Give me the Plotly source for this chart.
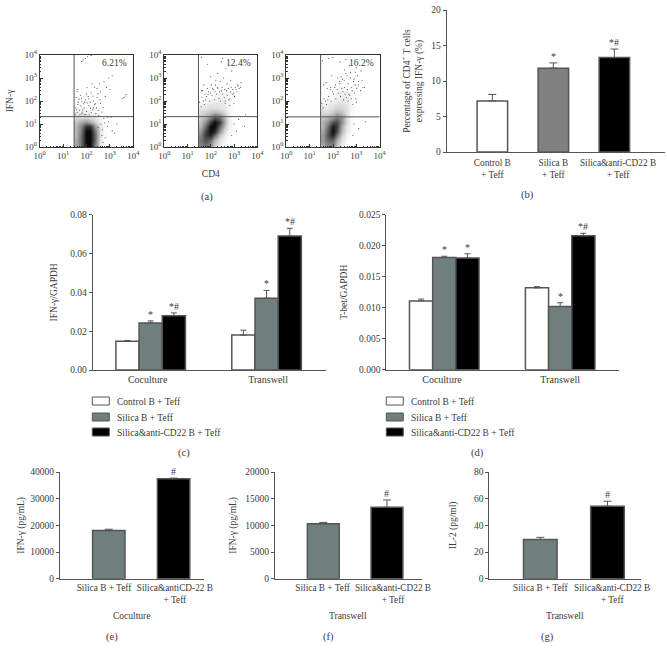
"""
Flow cytometry dot plots and cytokine bar panels (a)-(g).
"""
import plotly.graph_objects as go

W, H = 667, 659
FONT = "Liberation Serif"
INK = "#3a3a3a"
EDGE = "#555555"
WHITE_BAR, GRAY_BAR, DARK_BAR, BLACK_BAR = "#ffffff", "#808080", "#6f7f7e", "#000000"

# (a) dot plots, everything in decades (log10 of the channel value)
flow_pct = ["6.21%", "12.4%", "16.2%"]
gate_x = [1.47, 1.47, 1.47]
gate_y = [1.32, 1.32, 1.31]

dens_x = [1.57, 1.77, 1.97, 2.17, 2.37, 2.57, 2.77, 2.97]
dens_y = [0.1, 0.3, 0.5, 0.7, 0.9, 1.1, 1.3, 1.5, 1.7, 1.9, 2.1, 2.3, 2.5]

dens_1 = [
    [.35, .6, 1, 1, .5, .1, 0, 0],
    [.35, .6, 1, 1, .6, .1, 0, 0],
    [.3, .6, 1, 1, .6, .12, .02, 0],
    [.3, .55, 1, 1, .55, .12, .02, 0],
    [.3, .5, .85, .85, .4, .1, .02, 0],
    [.25, .35, .45, .35, .2, .06, 0, 0],
    [.15, .15, .15, .12, .08, .03, 0, 0],
    [.08, .06, .06, .06, .04, .02, 0, 0],
    [.03, .03, .03, .03, .02, 0, 0, 0],
    [0, 0, 0, 0, 0, 0, 0, 0],
    [0, 0, 0, 0, 0, 0, 0, 0],
    [0, 0, 0, 0, 0, 0, 0, 0],
    [0, 0, 0, 0, 0, 0, 0, 0],
]
dens_2 = [
    [.5, .6, .45, .2, .08, .02, 0, 0],
    [.55, .7, .6, .3, .12, .04, 0, 0],
    [.5, .8, .9, .6, .25, .08, .02, 0],
    [.4, .75, 1, .9, .45, .15, .03, 0],
    [.3, .6, 1, 1, .65, .25, .06, .02],
    [.25, .45, .8, 1, .8, .35, .08, .02],
    [.2, .3, .5, .7, .6, .3, .08, 0],
    [.15, .2, .25, .3, .25, .15, .05, 0],
    [.1, .12, .15, .15, .12, .1, .04, 0],
    [.04, .06, .08, .1, .1, .08, .03, 0],
    [0, .02, .03, .05, .06, .06, .03, 0],
    [0, 0, 0, .02, .03, .04, .03, 0],
    [0, 0, 0, 0, 0, 0, 0, 0],
]
dens_3 = [
    [.35, .5, .5, .25, .08, .02, 0, 0],
    [.4, .6, .65, .35, .12, .03, 0, 0],
    [.4, .7, .9, .55, .2, .05, 0, 0],
    [.35, .65, 1, .75, .3, .08, .02, 0],
    [.3, .55, .95, .8, .35, .1, .02, 0],
    [.3, .45, .7, .75, .45, .15, .03, 0],
    [.22, .3, .4, .55, .45, .15, .03, 0],
    [.15, .15, .2, .3, .25, .12, .03, 0],
    [.1, .1, .14, .18, .18, .12, .04, 0],
    [.05, .06, .08, .12, .13, .1, .05, 0],
    [0, .03, .05, .07, .1, .08, .04, 0],
    [0, 0, .02, .05, .06, .06, .04, 0],
    [0, 0, 0, .02, .04, .04, .02, 0],
]

dots_1_x = [1.6, 1.55, 1.7, 1.8, 1.9, 2.0, 2.1, 2.2, 2.3, 2.4, 2.5, 1.65, 1.8, 1.95, 2.1, 2.3, 2.45, 2.6,
            2.2, 2.0, 1.75, 2.6, 2.8, 2.85, 2.95, 2.75, 2.55, 3.1, 2.45, 3.0, 2.35, 1.6,
            3.55, 3.6, 3.65, 3.7, 1.8, 1.85, 1.95, 2.05, 2.2, 2.9, 3.1, 3.2, 2.8, 2.95, 3.3, 2.7,
            1.52, 1.58, 1.63, 1.72, 1.76, 1.84, 1.88, 1.97, 2.03, 2.12, 2.17, 2.26, 2.34, 2.43, 2.52, 2.66,
            1.56, 1.68, 1.83, 1.92, 2.07, 2.16, 2.28, 2.38, 2.49, 2.71, 1.62, 1.78, 2.02, 2.24, 2.58, 1.9,
            2.62, 2.68, 2.74, 2.66, 2.9, 3.05, 2.5, 2.78]
dots_1_y = [1.5, 1.7, 1.6, 1.45, 1.7, 1.55, 1.8, 1.5, 1.7, 1.45, 1.6, 1.95, 2.0, 2.05, 2.1, 2.0, 2.15, 1.9,
            2.35, 2.3, 2.25, 2.4, 2.2, 2.6, 3.0, 2.85, 2.75, 3.1, 2.55, 2.5, 2.6, 2.4,
            2.1, 2.15, 2.22, 2.28, 3.72, 3.78, 3.85, 3.93, 3.98, 0.9, 0.7, 0.6, 0.4, 1.1, 1.0, 0.2,
            1.42, 1.62, 1.85, 1.4, 1.78, 1.62, 1.88, 1.42, 1.92, 1.4, 1.68, 1.62, 1.86, 1.7, 1.38, 1.52,
            2.15, 2.08, 1.52, 1.95, 2.2, 1.95, 2.22, 1.88, 2.32, 1.72, 2.5, 2.12, 2.6, 2.75, 2.05, 1.4,
            1.0, 0.75, 1.25, 0.5, 1.3, 1.3, 0.85, 1.05]
dots_2_x = [1.6, 1.75, 1.9, 2.1, 2.3, 2.45, 2.6, 2.75, 2.85, 2.95, 3.05, 3.15, 3.3, 2.2, 2.4, 2.55,
            2.7, 2.85, 2.0, 1.85, 2.9, 2.65, 2.45, 2.3, 2.5, 1.7, 1.6, 3.0, 3.2, 3.45, 2.9, 3.1, 3.5,
            1.52, 1.62, 1.72, 1.82, 1.95, 2.05, 2.15, 2.25, 2.35, 2.5, 2.62, 2.72, 2.82, 2.92, 3.02, 3.12,
            3.22, 1.58, 1.78, 1.98, 2.18, 2.38, 2.58, 2.78, 2.98, 1.68, 1.88, 2.08, 2.28, 2.48, 2.68, 2.88,
            3.08, 3.28, 2.42, 2.62, 2.82, 3.0, 3.18, 1.65, 1.85, 2.02, 2.22]
dots_2_y = [2.45, 2.3, 2.4, 2.5, 2.55, 2.45, 2.5, 2.55, 2.4, 2.5, 2.6, 2.7, 2.8, 2.7, 2.85, 3.0,
            2.75, 2.9, 3.05, 3.6, 3.3, 3.4, 3.7, 3.2, 3.85, 2.7, 3.9, 1.0, 1.2, 0.9, 0.5, 0.7, 1.4,
            1.95, 2.15, 1.85, 2.2, 2.0, 2.25, 2.05, 2.3, 2.12, 2.3, 2.0, 2.25, 2.1, 2.3, 2.2, 2.4,
            2.55, 1.75, 2.05, 2.35, 2.4, 2.4, 2.15, 2.05, 2.35, 2.0, 2.3, 2.55, 2.6, 2.6, 2.45, 2.6,
            2.5, 2.6, 2.0, 1.9, 1.8, 1.9, 2.65, 2.45, 2.55, 2.7, 2.9]
dots_3_x = [1.6, 1.75, 1.9, 2.1, 2.3, 2.5, 2.65, 2.8, 2.95, 3.1, 3.25, 2.2, 2.4, 2.6, 2.75, 2.9, 3.05,
            2.0, 1.8, 3.0, 2.7, 2.5, 2.3, 3.2, 3.35, 1.7, 1.55, 2.9, 3.1, 3.4, 2.85, 2.55, 1.95,
            1.52, 1.62, 1.72, 1.82, 1.92, 2.02, 2.12, 2.22, 2.32, 2.42, 2.52, 2.62, 2.72, 2.82, 2.92, 3.02,
            1.58, 1.78, 1.98, 2.18, 2.38, 2.58, 2.78, 2.98, 3.18, 1.68, 1.88, 2.08, 2.28, 2.48, 2.68, 2.88,
            3.08, 3.28, 2.45, 2.65, 2.85, 3.0, 2.35, 2.55, 2.75, 2.95]
dots_3_y = [2.7, 2.55, 2.6, 2.7, 2.75, 2.6, 2.75, 2.6, 2.7, 2.85, 2.9, 3.0, 2.95, 3.1, 3.25, 2.95, 3.1,
            3.9, 3.85, 3.45, 3.55, 3.35, 3.7, 3.3, 2.6, 2.8, 3.75, 1.0, 0.8, 1.1, 0.5, 3.8, 3.1,
            1.9, 2.1, 1.85, 2.2, 2.0, 2.3, 2.1, 2.35, 2.2, 2.4, 2.3, 2.5, 2.25, 2.45, 2.35, 2.55,
            1.7, 2.05, 2.4, 2.5, 2.55, 2.15, 2.1, 2.1, 2.45, 2.0, 2.5, 2.6, 2.85, 2.9, 2.3, 2.85,
            2.7, 2.6, 2.05, 2.0, 1.85, 1.95, 3.05, 3.2, 3.0, 3.25]

# (b)
b_cats = ["Control B<br>+ Teff", "Silica B<br>+ Teff", "Silica&anti-CD22 B<br>+ Teff"]
b_vals = [7.2, 11.8, 13.3]
b_errs = [0.9, 0.75, 1.2]
b_marks = ["", "*", "*#"]

# (c), (d)
groups = ["Coculture", "Transwell"]
series = ["Control B + Teff", "Silica B + Teff", "Silica&anti-CD22 B + Teff"]
c_vals = [[0.0148, 0.018], [0.0242, 0.037], [0.028, 0.069]]
c_errs = [[0.0004, 0.0025], [0.0011, 0.004], [0.0014, 0.004]]
c_marks = [["", ""], ["*", "*"], ["*#", "*#"]]
d_vals = [[0.0111, 0.0132], [0.0181, 0.0102], [0.018, 0.0216]]
d_errs = [[0.0003, 0.0002], [0.0002, 0.0006], [0.0007, 0.0004]]
d_marks = [["", ""], ["*", "*"], ["*", "*#"]]

# (e), (f), (g)
e_cats = ["Silica B + Teff", "Silica&antiCD-22 B<br>+ Teff"]
fg_cats = ["Silica B + Teff", "Silica&anti-CD22 B<br>+ Teff"]
e_vals, e_errs = [18100, 37450], [450, 250]
f_vals, f_errs = [10300, 13400], [250, 1350]
g_vals, g_errs = [29.4, 54.3], [1.6, 3.8]


def dom_x(left, right):
    return [left / W, right / W]


def dom_y(top, bottom):
    return [1 - bottom / H, 1 - top / H]


fig = go.Figure()
annotations = []
shapes = []
axes = {}


def note(text, xpx, ypx, size=10.5):
    annotations.append(dict(text=text, xref="paper", yref="paper", x=xpx / W, y=1 - ypx / H,
                            xanchor="center", yanchor="middle", showarrow=False,
                            font=dict(family=FONT, size=size, color=INK)))


def base_x(n, left, right, xrange, tickvals, ticktext, size=9.3, standoff=0):
    axes[f"xaxis{n}"] = dict(domain=dom_x(left, right), anchor=f"y{n}", range=xrange, tickvals=tickvals,
                             ticktext=ticktext, automargin=False, tickangle=0, showgrid=False, zeroline=False,
                             showline=True, linecolor=EDGE, linewidth=1, ticks="", ticklabelstandoff=standoff,
                             tickfont=dict(family=FONT, size=size, color=INK))


def base_y(n, top, bottom, yrange, tickvals, title, standoff, fmt=""):
    axes[f"yaxis{n}"] = dict(domain=dom_y(top, bottom), anchor=f"x{n}", range=yrange, tickvals=tickvals,
                             automargin=False, tickformat=fmt, showgrid=False, zeroline=False, showline=True,
                             linecolor=EDGE, linewidth=1, ticks="outside", ticklen=3, tickcolor=EDGE,
                             tickfont=dict(family=FONT, size=9.5, color=INK),
                             title=dict(text=title, standoff=standoff, font=dict(family=FONT, size=9.5, color=INK)))


def star(n, x, y, text):
    if text:
        annotations.append(dict(text=text, xref=f"x{n}", yref=f"y{n}", x=x, y=y, yanchor="bottom", yshift=-1,
                                showarrow=False, font=dict(family=FONT, size=10, color=INK)))


def simple_bars(n, vals, errs, colors, marks):
    fig.add_trace(go.Bar(x=list(range(len(vals))), y=vals, width=0.5, xaxis=f"x{n}", yaxis=f"y{n}", marker_color=colors,
                         marker_line=dict(color=EDGE, width=1.5), showlegend=False,
                         error_y=dict(type="data", array=errs, arrayminus=[0] * len(errs), symmetric=False,
                                      color=EDGE, thickness=1, width=4)))
    for i, m in enumerate(marks):
        star(n, i, vals[i] + errs[i], m)


def group_bars(n, vals, errs, marks):
    for s, colour in enumerate([WHITE_BAR, DARK_BAR, BLACK_BAR]):
        fig.add_trace(go.Bar(x=[0, 1], y=vals[s], name=series[s], xaxis=f"x{n}", yaxis=f"y{n}", marker_color=colour,
                             marker_line=dict(color=EDGE, width=1.5), showlegend=False,
                             error_y=dict(type="data", array=errs[s], arrayminus=[0, 0], symmetric=False,
                                          color=EDGE, thickness=1, width=3)))
        for g in range(2):
            star(n, g + (s - 1) * 0.2, vals[s][g] + errs[s][g], marks[s][g])


def legend_box(left, text_x):
    for name, colour, top in zip(series, [WHITE_BAR, DARK_BAR, BLACK_BAR], [397, 413, 428]):
        shapes.append(dict(type="rect", xref="paper", yref="paper", x0=left / W, x1=(left + 17) / W,
                           y0=1 - (top + 8) / H, y1=1 - top / H, fillcolor=colour, line=dict(color=EDGE, width=1)))
        annotations.append(dict(text=name, xref="paper", yref="paper", x=text_x / W, y=1 - (top + 4.5) / H,
                                xanchor="left", yanchor="middle", showarrow=False,
                                font=dict(family=FONT, size=9.5, color=INK)))


# (a) dot plots
decade_ticks = [1, 10, 100, 1000, 10000]
decade_text = ["10<sup>0</sup>", "10<sup>1</sup>", "10<sup>2</sup>", "10<sup>3</sup>", "10<sup>4</sup>"]
minor_ticks = [m * d for d in [1, 10, 100, 1000] for m in range(2, 10)]
flow_boxes = [(39.7, 133.3), (164.3, 257.3), (286.3, 379.7)]
flow_dens = [dens_1, dens_2, dens_3]
flow_dots = [(dots_1_x, dots_1_y), (dots_2_x, dots_2_y), (dots_3_x, dots_3_y)]

for i, (left, right) in enumerate(flow_boxes):
    n = i + 1
    fig.add_trace(go.Heatmap(x=[10 ** v for v in dens_x], y=[10 ** v for v in dens_y], z=flow_dens[i],
                             xaxis=f"x{n}", yaxis=f"y{n}", zmin=0, zmax=1, zsmooth="best", showscale=False,
                             colorscale=[[0, "#ffffff"], [1, "#0a0a0a"]], hoverinfo="skip"))
    fig.add_trace(go.Scatter(x=[10 ** v for v in flow_dots[i][0]], y=[10 ** v for v in flow_dots[i][1]],
                             xaxis=f"x{n}", yaxis=f"y{n}", mode="markers", showlegend=False,
                             marker=dict(size=1.1, color="#444444", line=dict(width=0))))
    fig.add_trace(go.Scatter(x=[10 ** gate_x[i]] * 2, y=[1, 10000], xaxis=f"x{n}", yaxis=f"y{n}", mode="lines",
                             showlegend=False, line=dict(color="#555555", width=1)))
    fig.add_trace(go.Scatter(x=[1, 10000], y=[10 ** gate_y[i]] * 2, xaxis=f"x{n}", yaxis=f"y{n}", mode="lines",
                             showlegend=False, line=dict(color="#555555", width=1)))
    for key, domain in [("xaxis", dom_x(left, right)), ("yaxis", dom_y(55, 147))]:
        axes[f"{key}{n}"] = dict(domain=domain, anchor=f"{'y' if key == 'xaxis' else 'x'}{n}", type="log",
                                 automargin=False, range=[0, 4], tickvals=decade_ticks, ticktext=decade_text,
                                 tickangle=0, showgrid=False, zeroline=False, showline=True, mirror=True,
                                 linecolor="#333333", linewidth=1, ticks="inside", ticklen=3, tickcolor="#333333",
                                 minor=dict(ticks="inside", ticklen=1.5, tickcolor="#333333", tickvals=minor_ticks),
                                 tickfont=dict(family=FONT, size=9, color=INK))
    annotations.append(dict(text=flow_pct[i], xref=f"x{n}", yref=f"y{n}", x=3.2, y=3.66, showarrow=False,
                            font=dict(family=FONT, size=9.5, color=INK)))

axes["xaxis2"]["title"] = dict(text="CD4", standoff=10, font=dict(family=FONT, size=9.5, color=INK))
axes["yaxis1"]["title"] = dict(text="IFN-γ", standoff=9, font=dict(family=FONT, size=9.5, color=INK))

# (b)
simple_bars(4, b_vals, b_errs, [WHITE_BAR, GRAY_BAR, BLACK_BAR], b_marks)
base_x(4, 446.7, 665, [-0.748, 2.83], [0, 1, 2.06], b_cats, standoff=2)
base_y(4, 10, 152, [0, 20], [0, 5, 10, 15, 20],
       "Percentage of CD4<sup>+</sup> T cells<br>expressing IFN-γ (%)", 6)

# (c)
group_bars(5, c_vals, c_errs, c_marks)
base_x(5, 92.7, 325.7, [-0.5, 1.51], [-0.026, 1.013], groups, size=10)
base_y(5, 214.7, 370, [0, 0.08], [0, 0.02, 0.04, 0.06, 0.08], "IFN-γ/GAPDH", 10, ".2f")
legend_box(92.3, 115)

# (d)
group_bars(6, d_vals, d_errs, d_marks)
base_x(6, 386.3, 619.3, [-0.5, 1.51], [-0.02, 1.0], groups, size=10)
base_y(6, 214.7, 369.7, [0, 0.025], [0, 0.005, 0.01, 0.015, 0.02, 0.025], "T-bet/GAPDH", 9, ".3f")
legend_box(386.3, 409)

# (e)
simple_bars(7, e_vals, e_errs, [DARK_BAR, BLACK_BAR], ["", "#"])
base_x(7, 60, 204.3, [-0.753, 1.474], [-0.074, 1.02], e_cats)
base_y(7, 472, 578.7, [0, 40000], [0, 10000, 20000, 30000, 40000], "IFN-γ (pg/mL)", 4, "d")

# (f)
simple_bars(8, f_vals, f_errs, [DARK_BAR, BLACK_BAR], ["", "#"])
base_x(8, 275, 421.7, [-0.758, 1.545], [-0.01, 1.094], fg_cats)
base_y(8, 472, 578.7, [0, 20000], [0, 5000, 10000, 15000, 20000], "IFN-γ (pg/mL)", 7, "d")

# (g)
simple_bars(9, g_vals, g_errs, [DARK_BAR, BLACK_BAR], ["", "#"])
base_x(9, 489.3, 640.7, [-0.759, 1.494], [0, 1.07], fg_cats)
base_y(9, 472, 578.7, [0, 80], [0, 20, 40, 60, 80], "IL-2 (pg/ml)", 15, "d")

# captions and group titles
note("(a)", 207, 197)
note("(b)", 527.7, 195)
note("(c)", 184, 453)
note("(d)", 477, 453)
note("(e)", 112, 636.7)
note("(f)", 328.3, 636.7)
note("(g)", 547, 636.7)
note("Coculture", 131.7, 615.7, 9.5)
note("Transwell", 348, 615.7, 9.5)
note("Transwell", 565, 615.7, 9.5)

fig.update_layout(width=W, height=H, margin=dict(l=0, r=0, t=0, b=0), paper_bgcolor="white", plot_bgcolor="white",
                  showlegend=False, barmode="group", bargap=0.4, bargroupgap=0, annotations=annotations, shapes=shapes,
                  font=dict(family=FONT, size=9.5, color=INK), **axes)

fig.write_html("out.html", config=dict(displayModeBar=False), post_script="document.body.style.margin='0';")
